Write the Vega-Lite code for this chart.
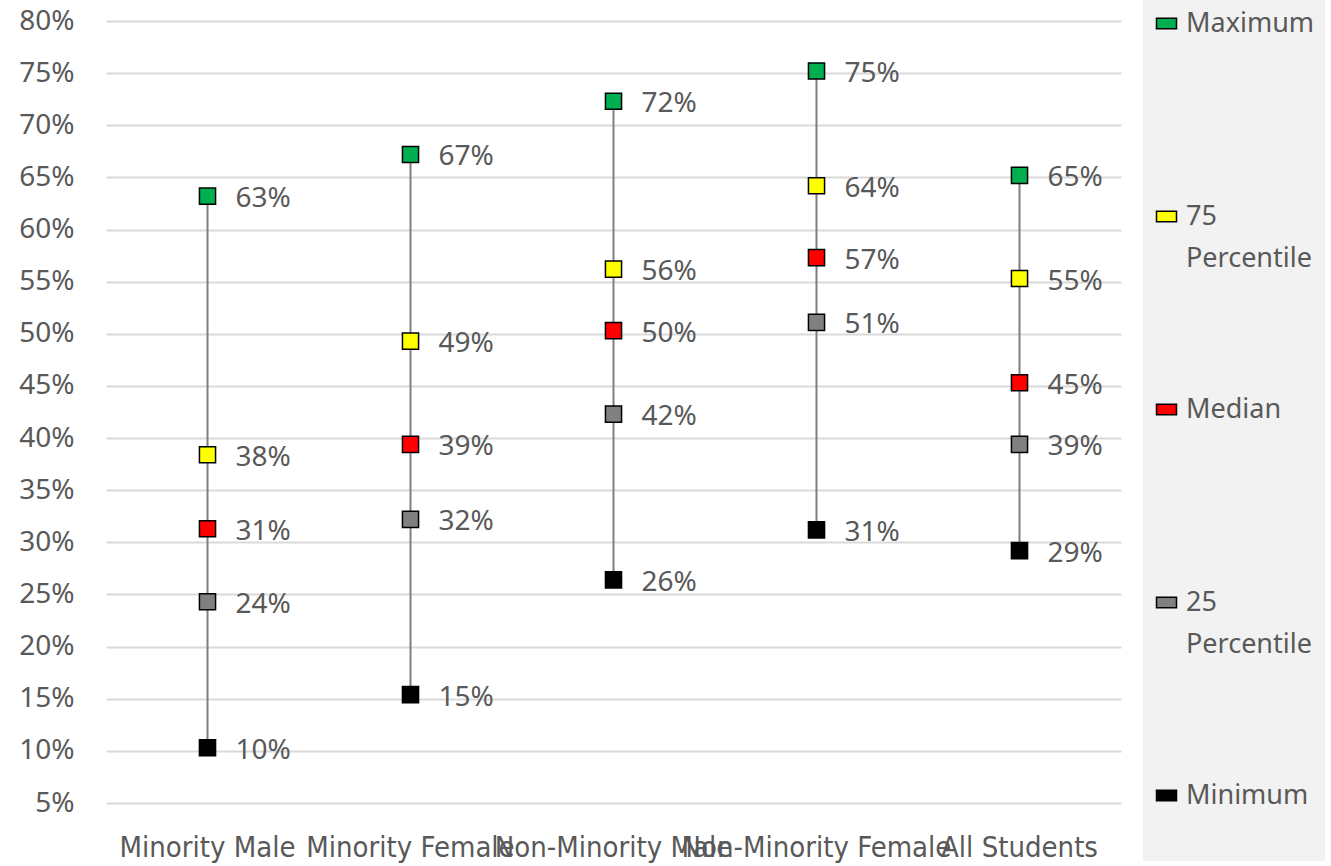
{
  "$schema": "https://vega.github.io/schema/vega-lite/v6.json",
  "autosize": "none",
  "width": 1015,
  "height": 782,
  "padding": {"left": 106, "top": 21, "right": 210, "bottom": 63},
  "background": "white",
  "title": {"text": "Success Rate", "fontSize": 40, "font": "Noto Sans", "fontWeight": "bold", "color": "#595959", "baseline": "bottom", "offset": 0, "dy": 48, "dx": 67, "anchor": "middle"},
  "data": {"values": [
    {"group": "Minority Male", "stat": "Maximum", "value": 0.632},
    {"group": "Minority Male", "stat": "75 Percentile", "value": 0.384},
    {"group": "Minority Male", "stat": "Median", "value": 0.313},
    {"group": "Minority Male", "stat": "25 Percentile", "value": 0.243},
    {"group": "Minority Male", "stat": "Minimum", "value": 0.103},
    {"group": "Minority Female", "stat": "Maximum", "value": 0.672},
    {"group": "Minority Female", "stat": "75 Percentile", "value": 0.493},
    {"group": "Minority Female", "stat": "Median", "value": 0.394},
    {"group": "Minority Female", "stat": "25 Percentile", "value": 0.322},
    {"group": "Minority Female", "stat": "Minimum", "value": 0.154},
    {"group": "Non-Minority Male", "stat": "Maximum", "value": 0.723},
    {"group": "Non-Minority Male", "stat": "75 Percentile", "value": 0.562},
    {"group": "Non-Minority Male", "stat": "Median", "value": 0.503},
    {"group": "Non-Minority Male", "stat": "25 Percentile", "value": 0.423},
    {"group": "Non-Minority Male", "stat": "Minimum", "value": 0.264},
    {"group": "Non-Minority Female", "stat": "Maximum", "value": 0.752},
    {"group": "Non-Minority Female", "stat": "75 Percentile", "value": 0.642},
    {"group": "Non-Minority Female", "stat": "Median", "value": 0.573},
    {"group": "Non-Minority Female", "stat": "25 Percentile", "value": 0.511},
    {"group": "Non-Minority Female", "stat": "Minimum", "value": 0.312},
    {"group": "All Students", "stat": "Maximum", "value": 0.652},
    {"group": "All Students", "stat": "75 Percentile", "value": 0.553},
    {"group": "All Students", "stat": "Median", "value": 0.453},
    {"group": "All Students", "stat": "25 Percentile", "value": 0.394},
    {"group": "All Students", "stat": "Minimum", "value": 0.292}
  ]},
  "encoding": {
    "x": {"field": "group", "type": "nominal", "sort": ["Minority Male", "Minority Female", "Non-Minority Male", "Non-Minority Female", "All Students"],
      "scale": {"paddingInner": 0, "paddingOuter": 0},
      "axis": {"title": null, "domain": false, "ticks": false, "grid": false, "labelAngle": 0, "labelPadding": 30, "labelOverlap": false, "labelLimit": 0, "labelFont": "DejaVu Sans Condensed", "labelFontSize": 29, "labelColor": "#595959"}}
  },
  "layer": [
    {
      "mark": {"type": "rule", "color": "#7f7f7f", "strokeWidth": 2},
      "encoding": {
        "y": {"aggregate": "min", "field": "value", "type": "quantitative", "scale": {"domain": [0.05, 0.8], "nice": false, "zero": false},
          "axis": {"title": null, "values": [0.05, 0.1, 0.15, 0.2, 0.25, 0.3, 0.35, 0.4, 0.45, 0.5, 0.55, 0.6, 0.65, 0.7, 0.75, 0.8], "format": ".0%", "grid": true, "gridColor": "#d9d9d9", "gridWidth": 2, "domain": false, "ticks": false, "labelPadding": 32, "labelFont": "Noto Sans", "labelFontSize": 28, "labelColor": "#595959"}},
        "y2": {"aggregate": "max", "field": "value"}
      }
    },
    {
      "mark": {"type": "point", "shape": "square", "filled": true, "size": 260, "stroke": "black", "strokeWidth": 1.5, "opacity": 1},
      "encoding": {
        "y": {"field": "value", "type": "quantitative"},
        "color": {"field": "stat", "type": "nominal",
          "scale": {"domain": ["Maximum", "75 Percentile", "Median", "25 Percentile", "Minimum"], "range": ["#00b050", "#ffff00", "#ff0000", "#808080", "#000000"]},
          "legend": {"title": null, "orient": "none", "legendX": 1037, "legendY": -21, "padding": 10, "fillColor": "#f2f2f2",
            "symbolType": "M-1,-0.52L1,-0.52L1,0.52L-1,0.52Z", "symbolSize": 400, "symbolStrokeColor": "black", "symbolStrokeWidth": 1.5,
            "labelFont": "Noto Sans", "labelFontSize": 27, "labelColor": "#595959", "labelOffset": 6, "labelLimit": 0, "rowPadding": 123,
            "labelExpr": "datum.label == '75 Percentile' ? ['75', 'Percentile'] : datum.label == '25 Percentile' ? ['25', 'Percentile'] : [datum.label, ' ']"}}
      }
    },
    {
      "mark": {"type": "text", "align": "left", "baseline": "middle", "dx": 28, "dy": 3, "font": "Noto Sans", "fontSize": 28, "color": "#595959"},
      "encoding": {
        "y": {"field": "value", "type": "quantitative"},
        "text": {"field": "value", "format": ".0%"}
      }
    }
  ],
  "config": {"view": {"stroke": null}, "style": {"guide-label": {"lineHeight": 42}}}
}
